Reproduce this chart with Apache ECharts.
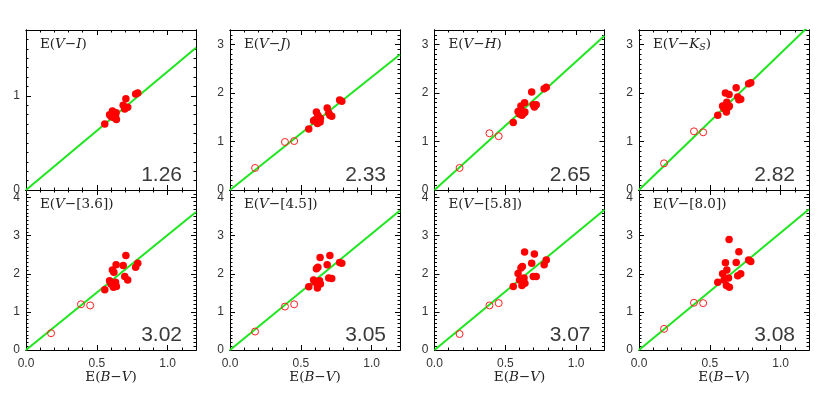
<!DOCTYPE html>
<html>
<head>
<meta charset="utf-8">
<script src="https://cdn.jsdelivr.net/npm/echarts@6/dist/echarts.min.js"></script>
<style>html,body{margin:0;padding:0;background:#fff}#c{width:825px;height:399px}</style>
</head>
<body>
<div id="c"></div>
<script>
// ---------------- DATA ----------------
// E(B-V) of the filled (cluster) stars, shared by all panels
const filledX = [0.556, 0.59, 0.60, 0.61, 0.62, 0.617, 0.632, 0.638, 0.636, 0.686, 0.705, 0.697, 0.718, 0.774, 0.789];
// E(B-V) of the open-circle stars
const openX = [0.177, 0.388, 0.453];

// colour-excess values per panel (filled stars)
const yVI  = [0.70, 0.80, 0.78, 0.84, 0.80, 0.77, 0.78, 0.75, 0.82, 0.90, 0.97, 0.86, 0.88, 1.02, 1.03];
const yVJ  = [1.26, 1.43, 1.45, 1.61, 1.54, 1.37, 1.43, 1.48, 1.40, 1.69, 1.54, 1.59, 1.52, 1.855, 1.83];
const yVH  = [1.39, 1.62, 1.57, 1.73, 1.59, 1.54, 1.59, 1.61, 1.80, 2.02, 1.71, 1.76, 1.76, 2.09, 2.12];
const yVK  = [1.54, 1.73, 1.68, 2.00, 1.81, 1.61, 1.71, 1.73, 1.97, 2.11, 1.86, 1.92, 1.87, 2.19, 2.21];
const yV36 = [1.58, 1.82, 1.73, 2.10, 2.04, 1.65, 1.78, 1.67, 2.24, 2.22, 2.48, 1.93, 1.84, 2.17, 2.28];
const yV45 = [1.66, 1.84, 1.78, 2.13, 2.17, 1.63, 1.82, 1.73, 2.43, 2.24, 2.48, 1.89, 1.88, 2.30, 2.28];
const yV58 = [1.67, 2.01, 1.84, 2.15, 2.19, 1.69, 1.89, 1.75, 2.57, 2.28, 2.52, 1.93, 1.93, 2.24, 2.36];
const yV80 = [1.78, 2.00, 1.84, 2.29, 2.10, 1.69, 1.89, 1.65, 2.90, 2.30, 2.58, 1.95, 2.00, 2.36, 2.32];

// open-circle stars per panel (none in V-I)
const oVI  = [];
const oVJ  = [0.455, 0.99, 1.01];
const oVH  = [0.455, 1.17, 1.11];
const oVK  = [0.55, 1.21, 1.19];
const oV36 = [0.44, 1.20, 1.17];
const oV45 = [0.485, 1.14, 1.20];
const oV58 = [0.42, 1.17, 1.23];
const oV80 = [0.555, 1.24, 1.23];

// fitted slopes E(V-X)/E(B-V)
const slopes = [1.26, 2.33, 2.65, 2.82, 3.02, 3.05, 3.07, 3.08];
// band names (index 3 is K with subscript S)
const bands = ['I', 'J', 'H', 'K', '[3.6]', '[4.5]', '[5.8]', '[8.0]'];
// y-axis upper limits
const yMaxes = [1.7, 3.3, 3.3, 3.3, 4.2, 4.2, 4.2, 4.2];
const xMin = 0, xMax = 1.2;

const filledY = [yVI, yVJ, yVH, yVK, yV36, yV45, yV58, yV80];
const openY = [oVI, oVJ, oVH, oVK, oV36, oV45, oV58, oV80];

// ---------------- LAYOUT ----------------
const lefts = [26, 230, 434.5, 639];
const tops = [30, 190];
const W = 170, H = 160;

const AX = '#000';
const TXT = '#333';

function fmtX(v) {
  return Math.abs(v * 2 - Math.round(v * 2)) < 1e-6 ? (Math.round(v * 2) / 2).toFixed(1) : '';
}
function fmtY(v) {
  return Math.abs(v - Math.round(v)) < 1e-6 ? String(Math.round(v)) : '';
}

function xAxis(g, pos, interval, len, showLabel) {
  return {
    type: 'value', gridIndex: g, position: pos, min: xMin, max: xMax, interval: interval,
    axisLine: { show: true, onZero: false, lineStyle: { color: AX, width: 1 } },
    axisTick: { show: true, inside: true, length: len, lineStyle: { color: AX, width: 1 } },
    axisLabel: { show: showLabel, formatter: fmtX, margin: 8, color: TXT, fontSize: 12, fontFamily: 'Liberation Sans' },
    splitLine: { show: false }
  };
}
function yAxis(g, pos, ymax, interval, len, showLabel) {
  return {
    type: 'value', gridIndex: g, position: pos, min: 0, max: ymax, interval: interval,
    axisLine: { show: true, onZero: false, lineStyle: { color: AX, width: 1 } },
    axisTick: { show: true, inside: true, length: len, lineStyle: { color: AX, width: 1 } },
    axisLabel: { show: showLabel, formatter: fmtY, margin: 6, color: TXT, fontSize: 12, fontFamily: 'Liberation Sans' },
    splitLine: { show: false }
  };
}

const grids = [], xAxes = [], yAxes = [], series = [], graphics = [];

const rich = {
  n: { fontFamily: 'DejaVu Serif', fontSize: 13.5, lineHeight: 17, fill: '#222' },
  i: { fontFamily: 'DejaVu Serif', fontStyle: 'italic', fontSize: 13.5, lineHeight: 17, fill: '#222' },
  s: { fontFamily: 'DejaVu Serif', fontStyle: 'italic', fontSize: 9.5, lineHeight: 9, verticalAlign: 'bottom', fill: '#222' }
};

for (let g = 0; g < 8; g++) {
  const row = Math.floor(g / 4), col = g % 4;
  const L = lefts[col], T = tops[row];
  grids.push({ left: L, top: T, width: W, height: H, containLabel: false });
  const bottomRow = row === 1;
  const xi = xAxes.length, yi = yAxes.length;
  xAxes.push(xAxis(g, 'bottom', 0.1, 2.5, bottomRow));
  xAxes.push(xAxis(g, 'bottom', 0.5, 5, false));
  xAxes.push(xAxis(g, 'top', 0.1, 2.5, false));
  xAxes.push(xAxis(g, 'top', 0.5, 5, false));
  const ym = yMaxes[g];
  yAxes.push(yAxis(g, 'left', ym, 0.1, 2.5, true));
  yAxes.push(yAxis(g, 'left', ym, 1, 5, false));
  yAxes.push(yAxis(g, 'right', ym, 0.1, 2.5, false));
  yAxes.push(yAxis(g, 'right', ym, 1, 5, false));

  const k = slopes[g];
  series.push({
    type: 'line', xAxisIndex: xi, yAxisIndex: yi, data: [[0, 0], [xMax, k * xMax]],
    symbol: 'none', clip: true, lineStyle: { color: '#1ee61e', width: 2 }, z: 2, silent: true, animation: false
  });
  series.push({
    type: 'scatter', xAxisIndex: xi, yAxisIndex: yi,
    data: openY[g].map((y, j) => [openX[j], y]),
    symbol: 'circle', symbolSize: 7,
    itemStyle: { color: 'rgba(0,0,0,0)', borderColor: '#ff2020', borderWidth: 1, opacity: 1 }, z: 3, animation: false
  });
  series.push({
    type: 'scatter', xAxisIndex: xi, yAxisIndex: yi,
    data: filledY[g].map((y, j) => [filledX[j], y]),
    symbol: 'circle', symbolSize: 7.5,
    itemStyle: { color: '#ff0000', opacity: 1 }, z: 4, animation: false
  });

  // panel label
  let label;
  if (bands[g] === 'K') label = '{n|E(}{i|V}{n|−}{i|K}{s|S}{n|)}';
  else if (bands[g].charAt(0) === '[') label = '{n|E(}{i|V}{n|−' + bands[g] + ')}';
  else label = '{n|E(}{i|V}{n|−}{i|' + bands[g] + '}{n|)}';
  graphics.push({
    type: 'text', left: L + 14, top: T + 7, z: 10,
    style: { text: label, rich: rich, fill: '#222' }
  });
  // slope value
  graphics.push({
    type: 'text', z: 10, x: L + W - 14, y: T + H - 4,
    style: { text: k.toFixed(2), fontFamily: 'Liberation Sans', fontSize: 21, fill: '#3a3a3a', textAlign: 'right', textVerticalAlign: 'bottom' }
  });
  if (bottomRow) {
    graphics.push({
      type: 'text', z: 10, x: L + W / 2, y: 377,
      style: { text: '{n|E(}{i|B}{n|−}{i|V}{n|)}', rich: rich, textAlign: 'center', textVerticalAlign: 'middle' }
    });
  }
}

const chart = echarts.init(document.getElementById('c'), null, { renderer: 'canvas' });
chart.setOption({
  animation: false,
  backgroundColor: '#fff',
  grid: grids,
  xAxis: xAxes,
  yAxis: yAxes,
  series: series,
  graphic: graphics
});
</script>
</body>
</html>
